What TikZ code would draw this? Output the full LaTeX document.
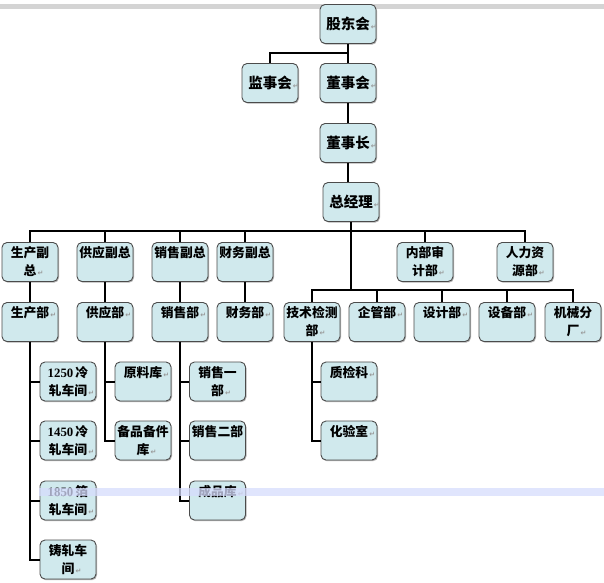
\documentclass[tikz,border=0pt]{standalone}
\usepackage{fontspec}
\setmainfont{Noto Sans CJK SC}
\newfontfamily\dv{DejaVu Sans}
\newfontfamily\digf{Liberation Serif}
\usetikzlibrary{shadows}
\definecolor{boxfill}{RGB}{208,233,237}
\definecolor{boxline}{RGB}{75,75,75}
\definecolor{bandc}{RGB}{214,220,252}
\newcommand\pmk{\rlap{\dv\fontsize{7}{7}\selectfont\color{black!40}\,↵}}
\newcommand\dg[1]{{\digf\bfseries #1}\,}
\tikzset{
  bx/.style={draw=boxline, line width=0.9pt, fill=boxfill, rounded corners=5pt,
    minimum width=56pt, minimum height=39pt, inner sep=0pt,
    drop shadow={shadow xshift=1pt, shadow yshift=-1.2pt, opacity=0.3, fill=black}},
  tx/.style={inner sep=0pt, align=center, font=\bfseries\fontsize{12.8}{18}\selectfont, anchor=north},
  big/.style={inner sep=0pt, font=\bfseries\fontsize{14.5}{16}\selectfont},
  ln/.style={line width=2pt, black},
  trunk/.style={line width=2.8pt, black},
}
\newcommand\ubox[4]{\node[bx] (#1) at (#2,#3) {}; \node[tx] (#1t) at ([yshift=-4.3pt]#1.north) {#4};}
\newcommand\tbox[4]{\node[bx] (#1) at (#2,#3) {}; \node[big] (#1t) at (#1.center) {#4};}
\begin{document}
\begin{tikzpicture}[x=1pt,y=-1pt]
\useasboundingbox (0,0) rectangle (604,582);
\fill[black!17] (0,4) rectangle (604,9);
% connectors
\coordinate (j0) at (348,53);
\coordinate (b1) at (351,231);
\coordinate (b2) at (351,290);
% top level
\tbox{gd}{348}{24}{股东会\pmk}
\tbox{jsh}{270}{83}{监事会\pmk}
\tbox{dsh}{348}{83}{董事会\pmk}
\tbox{dsz}{348}{143}{董事长\pmk}
\tbox{zjl}{351}{202}{总经理\pmk}
% row 1
\ubox{v1}{30}{262}{生产副\\总\pmk}
\ubox{v2}{105}{262}{供应副总}
\ubox{v3}{180}{262}{销售副总}
\ubox{v4}{245}{262}{财务副总}
\ubox{v5}{425}{262}{内部审\\计部\pmk}
\ubox{v6}{525}{262}{人力资\\源部\pmk}
% row 2
\ubox{d1}{30}{322}{生产部\pmk}
\ubox{d2}{105}{322}{供应部\pmk}
\ubox{d3}{180}{322}{销售部\pmk}
\ubox{d4}{245}{322}{财务部\pmk}
\ubox{d5}{312}{322}{技术检测\\部\pmk}
\ubox{d6}{377}{322}{企管部\pmk}
\ubox{d7}{442}{322}{设计部\pmk}
\ubox{d8}{507}{322}{设备部\pmk}
\ubox{d9}{573}{322}{机械分\\厂\pmk}
% children
\ubox{c11}{68}{381.5}{\dg{1250}冷\\轧车间\pmk}
\ubox{c12}{68}{440.5}{\dg{1450}冷\\轧车间\pmk}
\ubox{c13}{68}{500.5}{\dg{1850}箔\\轧车间\pmk}
\ubox{c14}{68}{559.5}{铸轧车\\间\pmk}
\ubox{c21}{143}{381.5}{原料库\pmk}
\ubox{c22}{143}{440.5}{备品备件\\库\pmk}
\ubox{c31}{217.5}{381.5}{销售一\\部\pmk}
\ubox{c32}{217.5}{440.5}{销售二部}
\ubox{c33}{217.5}{500.5}{成品库\pmk}
\ubox{c51}{349}{381.5}{质检科\pmk}
\ubox{c52}{349}{440.5}{化验室\pmk}
% lines
\draw[ln] (gd.south) -- (dsh.north);
\draw[ln] (j0) -| (jsh.north);
\draw[ln] (dsh.south) -- (dsz.north);
\draw[ln] (dsz.south) -- (dsz.south |- zjl.north);
\draw[trunk] (zjl.south) -- (b2);
\draw[ln] (v1.north) |- (b1) -| (v6.north);
\foreach \n in {v2,v3,v4,v5} \draw[ln] (\n.north) -- (\n.north |- b1);
\draw[ln] (d5.north) |- (b2) -| (d9.north);
\foreach \n in {d6,d7,d8} \draw[ln] (\n.north) -- (\n.north |- b2);
\draw[ln] (v1.south) -- (d1.north);
\draw[ln] (v2.south) -- (d2.north);
\draw[ln] (v3.south) -- (d3.north);
\draw[ln] (v4.south) -- (d4.north);
\foreach \c in {c11,c12,c13,c14} \draw[ln] (d1.south) |- (\c.west);
\foreach \c in {c21,c22} \draw[ln] (d2.south) |- (\c.west);
\foreach \c in {c31,c32,c33} \draw[ln] (d3.south) |- (\c.west);
\foreach \c in {c51,c52} \draw[ln] (d5.south) |- (\c.west);
% highlight band
\fill[bandc, opacity=0.75] (39,487.5) rectangle (604,495.5);
\end{tikzpicture}
\end{document}
